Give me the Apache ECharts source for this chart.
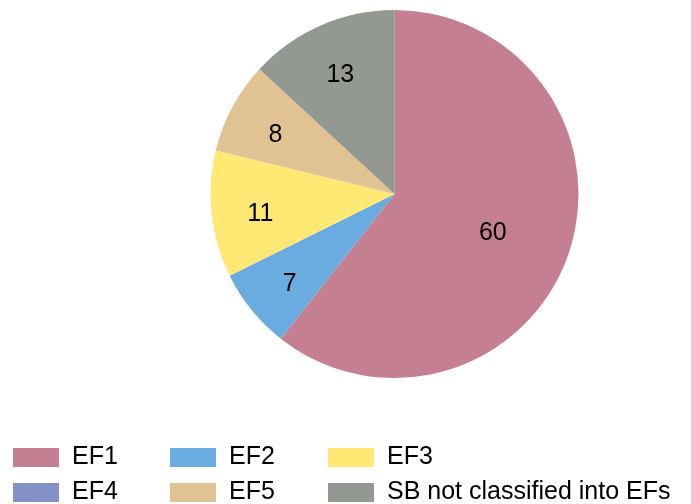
<!DOCTYPE html>
<html>
<head>
<meta charset="utf-8">
<script src="https://cdn.jsdelivr.net/npm/echarts@6/dist/echarts.min.js"></script>
<style>
  html, body { margin: 0; padding: 0; background: #fff; }
  #main { width: 691px; height: 504px; }
</style>
</head>
<body>
<div id="main"></div>
<script>
  // categories and values
  var categories = ['EF1', 'EF2', 'EF3', 'EF4', 'EF5', 'SB not classified into EFs']
  var counts = [60, 7, 11, 0, 8, 13]
  var colors = ['#C48090', '#6AACE0', '#FFE974', '#8490C8', '#E1C393', '#939890']

  var chart = echarts.init(document.getElementById('main'))
  var font = 'Liberation Sans, Arial, sans-serif'
  var center = [394.5, 194]
  var R = 184

  function pieData(showFn){
    return categories.map(function(name, i){
      return {
        name: name,
        value: counts[i],
        itemStyle: { color: colors[i] },
        label: { show: showFn(i) }
      }
    })
  }

  // pie drawn once; label rings are transparent overlays so text sits where the reference puts it
  function labelRing(inner, showFn){
    return {
      type: 'pie',
      silent: true,
      startAngle: 90,
      clockwise: true,
      center: [center[0], center[1] + 5],
      radius: [inner, R],
      data: pieData(showFn).map(function(d){
        d.itemStyle = { color: 'rgba(0,0,0,0)' }
        return d
      }),
      label: {
        position: 'inside',
        color: '#000',
        fontSize: 25,
        fontFamily: font,
        formatter: '{c}'
      },
      labelLine: { show: false },
      emphasis: { disabled: true }
    }
  }

  var legends = []
  var legendLeft = [13, 170, 328]
  var legendTop = [445, 480]
  for (var i = 0; i < categories.length; i++){
    legends.push({
      data: [categories[i]],
      left: legendLeft[i % 3],
      top: legendTop[Math.floor(i / 3)],
      padding: 0,
      itemWidth: 46,
      itemHeight: 19,
      icon: 'rect',
      selectedMode: false,
      textStyle: {
        fontSize: 25,
        fontFamily: font,
        color: '#000',
        lineHeight: 19,
        padding: [0, 0, 4, 8]
      }
    })
  }

  var option = {
    animation: false,
    legend: legends,
    series: [
      {
        type: 'pie',
        startAngle: 90,
        clockwise: true,
        center: center,
        radius: [0, R],
        data: pieData(function(){ return false }),
        label: { show: false },
        labelLine: { show: false },
        itemStyle: { borderWidth: 0 },
        emphasis: { disabled: true }
      },
      labelRing(18, function(i){ return i === 0 }),
      labelRing(80, function(i){ return i !== 0 && counts[i] > 0 })
    ]
  }

  chart.setOption(option)
</script>
</body>
</html>
